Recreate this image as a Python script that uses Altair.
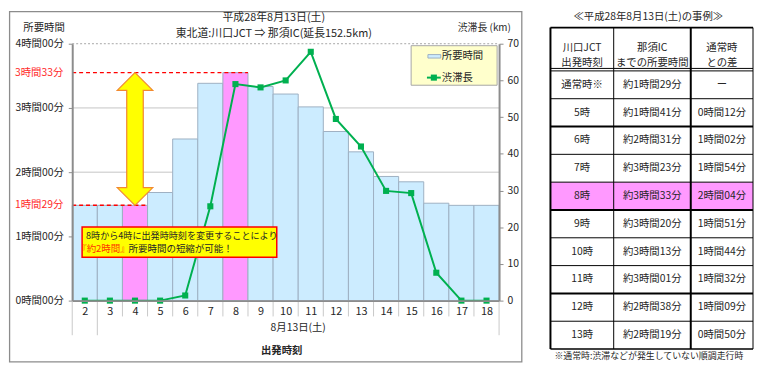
import altair as alt
import pandas as pd

# ---------------- data ----------------
hours = [2, 3, 4, 5, 6, 7, 8, 9, 10, 11, 12, 13, 14, 15, 16, 17, 18]
travel_minutes = [89, 89, 89, 101, 151, 203, 213, 200, 193, 181, 158, 139, 116, 111, 91, 89, 89]
jam_km = [0, 0, 0, 0, 1.4, 25.7, 59.0, 58.1, 60.0, 67.8, 49.5, 42.0, 29.9, 29.3, 7.6, 0, 0]
highlight_hours = [4, 8]
date_group_first_hour = 3
date_group_label = "8月13日(土)"

minute_ticks = [0, 60, 120, 180, 240]
km_ticks = [0, 10, 20, 30, 40, 50, 60, 70]
ref_minutes = [89, 213]
ref_labels = ["1時間29分", "3時間33分"]
ref_until_hour = [4, 8]
arrow_hour = 4

title_line1 = "平成28年8月13日(土)"
title_line2 = "東北道:川口JCT ⇒ 那須IC(延長152.5km)"
left_title = "所要時間"
right_title = "渋滞長 (km)"
x_title = "出発時刻"
legend_labels = ["所要時間", "渋滞長"]
note_line1 = "8時から4時に出発時時刻を変更することにより"
note_emph = "『約2時間』"
note_rest = "所要時間の短縮が可能！"

table_title = "≪平成28年8月13日(土)の事例≫"
table_headers = ["川口JCT\n出発時刻", "那須IC\nまでの所要時間", "通常時\nとの差"]
table_depart = ["通常時※", "5時", "6時", "7時", "8時", "9時", "10時", "11時", "12時", "13時"]
table_duration = ["約1時間29分", "約1時間41分", "約2時間31分", "約3時間23分", "約3時間33分",
                  "約3時間20分", "約3時間13分", "約3時間01分", "約2時間38分", "約2時間19分"]
table_diff = ["ー", "0時間12分", "1時間02分", "1時間54分", "2時間04分",
              "1時間51分", "1時間44分", "1時間32分", "1時間09分", "0時間50分"]
table_highlight = "8時"
table_note = "※通常時:渋滞などが発生していない順調走行時"

# ---------------- layout / style ----------------
W, H = 432, 260
FONT = "Noto Sans CJK JP"
TXT = "#262626"
AXIS_GRAY = "#8C8C8C"
BLUE = "#CCECFF"
PINK = "#FF99FF"
BAR_EDGE = "#9DB0C2"
GREEN = "#00B050"
RED = "#FF0000"
YELLOW = "#FFFF00"
ORANGE = "#F28A30"

x_lo = hours[0] - 0.5
x_hi = hours[-1] + 0.5
xs = alt.Scale(domain=[x_lo, x_hi], nice=False, zero=False)
ym = alt.Scale(domain=[0, minute_ticks[-1]], nice=False, zero=True)
yk = alt.Scale(domain=[0, km_ticks[-1]], nice=False, zero=True)

one = pd.DataFrame({"_": [0]})


def txt(text, x, y, size=10.5, color=TXT, align="center", weight="normal"):
    return alt.Chart(one).mark_text(
        align=align, baseline="middle", fontSize=size, color=color, fontWeight=weight
    ).encode(x=alt.value(x), y=alt.value(y), text=alt.value(text))


# main data
df = pd.DataFrame({"hour": hours, "minutes": travel_minutes, "km": jam_km})
df["hl"] = df["hour"].isin(highlight_hours)
df["x0"] = df["hour"] - 0.5
df["x1"] = df["hour"] + 0.5
df["base"] = 0

# frame
frame = alt.Chart(one).mark_rect(fillOpacity=0, stroke=AXIS_GRAY, strokeWidth=1.3).encode(
    x=alt.value(-63.4), x2=alt.value(455), y=alt.value(-32.4), y2=alt.value(322))

# gridlines
df_grid = pd.DataFrame({"m": minute_ticks[1:]})
df_grid["x0"] = x_lo
df_grid["x1"] = x_hi
grid_solid = alt.Chart(df_grid).transform_filter(f"datum.m < {minute_ticks[-1]}").mark_rule(
    color="#C4C4C4", strokeWidth=1).encode(
    x=alt.X("x0:Q", scale=xs, axis=None), x2="x1:Q", y=alt.Y("m:Q", scale=ym, axis=None))
grid_top = alt.Chart(df_grid).transform_filter(f"datum.m == {minute_ticks[-1]}").mark_rule(
    color="#A6A6A6", strokeWidth=1, strokeDash=[2, 2]).encode(
    x=alt.X("x0:Q", scale=xs, axis=None), x2="x1:Q", y=alt.Y("m:Q", scale=ym, axis=None))

# bars
left_axis = alt.Axis(
    values=minute_ticks,
    labelExpr="floor(datum.value/60) + '時間' + (datum.value % 60 < 10 ? '0' : '') + (datum.value % 60) + '分'",
    tickSize=4, tickColor=AXIS_GRAY, domainColor=AXIS_GRAY, domainWidth=2,
    labelPadding=5, labelFontSize=10.5, labelColor=TXT, grid=False, title=None, zindex=1)
x_axis = alt.Axis(
    values=hours, ticks=False, tickSize=0, labelPadding=5, labelFontSize=11, labelColor=TXT,
    domainColor=AXIS_GRAY, domainWidth=2, grid=False, title=None, labelFlush=False,
    labelOverlap=False, format="d", zindex=1)
bars = alt.Chart(df).mark_rect(stroke=BAR_EDGE, strokeWidth=1).encode(
    x=alt.X("x0:Q", scale=xs, axis=x_axis), x2="x1:Q",
    y=alt.Y("minutes:Q", scale=ym, axis=left_axis), y2="base:Q",
    fill=alt.condition("datum.hl", alt.value(PINK), alt.value(BLUE)))

# separators under the category axis
edges = [h - 0.5 for h in hours] + [x_hi]
long_edges = {x_lo, date_group_first_hour - 0.5, x_hi}
df_sep = pd.DataFrame({"e": edges})
df_sep["long"] = df_sep["e"].isin(long_edges)
sep_short = alt.Chart(df_sep[~df_sep["long"]]).mark_rule(color="#C8C8C8", strokeWidth=1).encode(
    x=alt.X("e:Q", scale=xs, axis=None), y=alt.value(H + 1), y2=alt.value(H + 16))
sep_long = alt.Chart(df_sep[df_sep["long"]]).mark_rule(color="#C8C8C8", strokeWidth=1).encode(
    x=alt.X("e:Q", scale=xs, axis=None), y=alt.value(H + 1), y2=alt.value(H + 35))
df_date = pd.DataFrame({"x": [(date_group_first_hour - 0.5 + x_hi) / 2], "t": [date_group_label]})
date_lbl = alt.Chart(df_date).mark_text(fontSize=10.5, color=TXT, baseline="middle").encode(
    x=alt.X("x:Q", scale=xs, axis=None), y=alt.value(288), text="t:N")

# congestion line
right_axis = alt.Axis(
    orient="right", values=km_ticks, tickSize=4, tickColor=AXIS_GRAY, domainColor=AXIS_GRAY,
    domainWidth=2, labelPadding=4, labelFontSize=10.5, labelColor=TXT, grid=False, title=None, zindex=1)
line = alt.Chart(df).mark_line(color=GREEN, strokeWidth=2).encode(
    x=alt.X("hour:Q", scale=xs, axis=None), y=alt.Y("km:Q", scale=yk, axis=right_axis))
pts = alt.Chart(df).mark_point(shape="square", filled=True, size=38, color=GREEN, opacity=1).encode(
    x=alt.X("hour:Q", scale=xs, axis=None), y=alt.Y("km:Q", scale=yk, axis=None))

# red reference lines & labels
df_ref = pd.DataFrame({"minutes": ref_minutes, "label": ref_labels, "until": ref_until_hour})
df_ref["xs0"] = x_lo
df_ref["xe"] = df_ref["until"] + 0.5
ref_rules = alt.Chart(df_ref).mark_rule(color=RED, strokeWidth=1.5, strokeDash=[4, 3]).encode(
    x=alt.X("xs0:Q", scale=xs, axis=None), x2="xe:Q", y=alt.Y("minutes:Q", scale=ym, axis=None))
ref_text = alt.Chart(df_ref).mark_text(align="right", baseline="middle", fontSize=10.5, color="#FF2A2A").encode(
    x=alt.value(-9), y=alt.Y("minutes:Q", scale=ym, axis=None), text="label:N")

# double arrow between the two reference values
df_arrow = pd.DataFrame({"hour": [arrow_hour], "lo": [ref_minutes[0]], "hi": [ref_minutes[1]]})
ax = alt.X("hour:Q", scale=xs, axis=None)
shaft_outer = alt.Chart(df_arrow).mark_rule(color=ORANGE, strokeWidth=18, yOffset=18, y2Offset=-18).encode(
    x=ax, y=alt.Y("hi:Q", scale=ym, axis=None), y2="lo:Q")
head_up = alt.Chart(df_arrow).mark_point(
    shape="M0,0L1,1L-1,1Z", size=1296, filled=True, fill=YELLOW, stroke=ORANGE, strokeWidth=1.2, opacity=1).encode(
    x=ax, y=alt.Y("hi:Q", scale=ym, axis=None))
head_down = alt.Chart(df_arrow).mark_point(
    shape="M0,0L1,-1L-1,-1Z", size=1296, filled=True, fill=YELLOW, stroke=ORANGE, strokeWidth=1.2, opacity=1).encode(
    x=ax, y=alt.Y("lo:Q", scale=ym, axis=None))
shaft_inner = alt.Chart(df_arrow).mark_rule(color=YELLOW, strokeWidth=15.5, yOffset=16, y2Offset=-16).encode(
    x=ax, y=alt.Y("hi:Q", scale=ym, axis=None), y2="lo:Q")

# annotation box
note_box = alt.Chart(one).mark_rect(fill=YELLOW, stroke=RED, strokeWidth=1.5).encode(
    x=alt.value(10), x2=alt.value(207), y=alt.value(185.5), y2=alt.value(216))
note1 = txt(note_line1, 14, 194.5, size=9.2, align="left")
note2a = txt(note_emph, 5, 207.5, size=9.6, color="#FF3300", align="left")
note2b = txt(note_rest, 57, 207.5, size=9.6, align="left")

# legend
leg_box = alt.Chart(one).mark_rect(fill="#FFFFCC", stroke="#A6A6A6", strokeWidth=1).encode(
    x=alt.value(343), x2=alt.value(430), y=alt.value(2), y2=alt.value(42))
leg_sw = alt.Chart(one).mark_rect(fill=BLUE, stroke=BAR_EDGE, strokeWidth=1).encode(
    x=alt.value(360), x2=alt.value(373), y=alt.value(11), y2=alt.value(14.5))
leg_line = alt.Chart(one).mark_rule(color=GREEN, strokeWidth=2).encode(
    x=alt.value(359), x2=alt.value(373), y=alt.value(34.3))
leg_pt = alt.Chart(one).mark_point(shape="square", filled=True, size=38, color=GREEN, opacity=1).encode(
    x=alt.value(366), y=alt.value(34.3))
leg_t1 = txt(legend_labels[0], 374, 12.5, size=10.5, align="left")
leg_t2 = txt(legend_labels[1], 374, 34.3, size=10.5, align="left")

# titles
t1 = txt(title_line1, 204, -26, size=11)
t2 = txt(title_line2, 204, -10, size=11)
lt = txt(left_title, -28.5, -16, size=10.5)
rt = txt(right_title, 417, -16, size=10)
xt = txt(x_title, 212, 311.5, size=10.5, weight="bold")

# ---------------- table ----------------
col_edges_px = [484, 548, 626, 689]
row_edges_px = [-16.3, 25, 27.5, 309]
n_rows = len(table_depart)
tx = alt.Scale(domain=[0, 1, 2, 3], range=col_edges_px, nice=False, zero=False)
ty = alt.Scale(domain=[0, 1, 2, 2 + n_rows], range=row_edges_px, nice=False, zero=False)

cells = []
for c, h in enumerate(table_headers):
    cells.append({"cx": c + 0.5, "cy": 0.5, "text": h})
for i in range(n_rows):
    for c, col in enumerate([table_depart, table_duration, table_diff]):
        cells.append({"cx": c + 0.5, "cy": i + 2.5, "text": col[i]})
df_cells = pd.DataFrame(cells)

pink_rows = [i for i, d in enumerate(table_depart) if d == table_highlight]
df_pink = pd.DataFrame({"x0": [0] * len(pink_rows), "x1": [3] * len(pink_rows),
                        "y0": [i + 2 for i in pink_rows], "y1": [i + 3 for i in pink_rows]})

h_lines = [{"y": 0, "w": 2}, {"y": 1, "w": 1}, {"y": 2, "w": 1}]
for i in range(n_rows):
    w = 1.5 if i == n_rows - 1 else (2 if i % 3 == 1 else 1)
    h_lines.append({"y": i + 3, "w": w})
df_h = pd.DataFrame(h_lines)
df_h["x0"] = 0
df_h["x1"] = 3
df_v = pd.DataFrame({"x": [0, 1, 2, 3], "w": [2, 1, 2, 1]})
df_v["y0"] = 0
df_v["y1"] = 2 + n_rows

tab_pink = alt.Chart(df_pink).mark_rect(fill=PINK).encode(
    x=alt.X("x0:Q", scale=tx, axis=None), x2="x1:Q",
    y=alt.Y("y0:Q", scale=ty, axis=None), y2="y1:Q")
tab_h = alt.Chart(df_h).mark_rule(color="black").encode(
    x=alt.X("x0:Q", scale=tx, axis=None), x2="x1:Q",
    y=alt.Y("y:Q", scale=ty, axis=None), strokeWidth=alt.StrokeWidth("w:Q", scale=None))
tab_v = alt.Chart(df_v).mark_rule(color="black").encode(
    x=alt.X("x:Q", scale=tx, axis=None),
    y=alt.Y("y0:Q", scale=ty, axis=None), y2="y1:Q", strokeWidth=alt.StrokeWidth("w:Q", scale=None))
tab_text = alt.Chart(df_cells).mark_text(
    fontSize=10.5, color=TXT, lineBreak="\n", lineHeight=15, baseline="middle", align="center").encode(
    x=alt.X("cx:Q", scale=tx, axis=None), y=alt.Y("cy:Q", scale=ty, axis=None), text="text:N")
tab_title = txt(table_title, 583, -27.5, size=10.5)
tab_note = txt(table_note, 488, 316.5, size=9, align="left")

layers = [frame, grid_solid, grid_top, bars, sep_short, sep_long, date_lbl,
          line, pts, ref_rules, ref_text,
          shaft_outer, head_up, head_down, shaft_inner,
          note_box, note1, note2a, note2b,
          leg_box, leg_sw, leg_line, leg_pt, leg_t1, leg_t2,
          t1, t2, lt, rt, xt,
          tab_pink, tab_h, tab_v, tab_text, tab_title, tab_note]

chart = alt.layer(*layers).resolve_scale(x="independent", y="independent").properties(
    width=W, height=H, padding=0, background="white"
).configure(font=FONT).configure_view(stroke=None)

chart.save("out.html", embed_options={"renderer": "svg", "actions": False})
